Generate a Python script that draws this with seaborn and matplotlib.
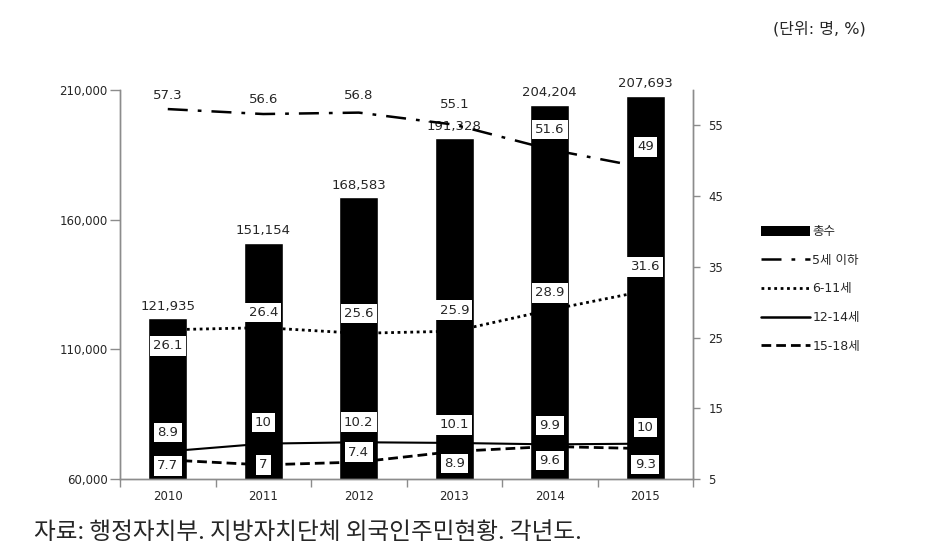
import numpy as np
import matplotlib
matplotlib.use("Agg")
import matplotlib.pyplot as plt
from matplotlib.lines import Line2D
from matplotlib.patches import Patch
import seaborn as sns

# --------- dados ---------
anos = ["2010", "2011", "2012", "2013", "2014", "2015"]
total = [121935, 151154, 168583, 191328, 204204, 207693]
idade_0_5 = [57.3, 56.6, 56.8, 55.1, 51.6, 49]
idade_6_11 = [26.1, 26.4, 25.6, 25.9, 28.9, 31.6]
idade_12_14 = [8.9, 10, 10.2, 10.1, 9.9, 10]
idade_15_18 = [7.7, 7, 7.4, 8.9, 9.6, 9.3]
nomes = ["총수", "5세 이하", "6-11세", "12-14세", "15-18세"]

# deslocamento vertical dos rótulos (pixels, + = acima)
desloc_0_5 = [14, 15, 17, 20, 20, 21]
desloc_6_11 = [-16, 15, 20, 21, 17, 24]
desloc_12_14 = [19, 21, 20, 18, 19, 16]
desloc_15_18 = [-6, 0, 10, -12, -14, -16]
# --------------------------

sns.set_theme(style="white")
plt.rcParams["font.family"] = ["DejaVu Sans", "Noto Sans CJK KR"]
CINZA = "#8c8c8c"

fig = plt.figure(figsize=(9.34, 5.52), dpi=100)
ax = fig.add_axes([0.1285, 0.1322, 0.6135, 0.7048])

sns.barplot(x=anos, y=total, color="black", saturation=1, width=0.41, ax=ax)
ax.set_ylim(60000, 210000)
ax.set_xlim(-0.5, 5.5)
ax.set_yticks([60000, 110000, 160000, 210000])
ax.set_yticklabels([f"{v:,}" for v in [60000, 110000, 160000, 210000]])
ax.bar_label(ax.containers[0], labels=[f"{v:,}" for v in total], padding=4, fontsize=9.5)

ax2 = ax.twinx()
ax2.set_ylim(5, 60)
ax2.set_yticks([5, 15, 25, 35, 45, 55])
ax2.set_xlim(-0.5, 5.5)

xs = np.arange(len(anos))
series = [
    (idade_0_5, desloc_0_5, dict(linestyle=(0, (8, 4, 1.5, 4)), linewidth=1.8)),
    (idade_6_11, desloc_6_11, dict(linestyle=(0, (1, 1.3)), linewidth=2)),
    (idade_12_14, desloc_12_14, dict(linestyle="-", linewidth=1.5)),
    (idade_15_18, desloc_15_18, dict(linestyle=(0, (3.5, 1.8)), linewidth=2)),
]
for vals, desl, estilo in series:
    sns.lineplot(x=xs, y=vals, ax=ax2, color="black", **estilo)
    for x, v, d in zip(xs, vals, desl):
        ax2.annotate(f"{v:g}", (x, v), xytext=(0, d), textcoords="offset pixels",
                     ha="center", va="center", fontsize=9.5, zorder=5,
                     bbox=dict(boxstyle="square,pad=0.25", fc="white", ec="none"))

for a in (ax, ax2):
    for s in a.spines.values():
        s.set_color(CINZA)
        s.set_linewidth(1)
    a.spines["top"].set_visible(False)
    a.grid(False)
    a.set_xlabel("")
    a.set_ylabel("")

ax.tick_params(axis="y", direction="out", length=7, width=1, color=CINZA, labelsize=8.5, pad=2, left=True)
ax2.tick_params(axis="y", direction="out", length=5, width=1, color=CINZA, labelsize=8.5, pad=6, right=True)
ax.tick_params(axis="x", length=0, labelsize=8.5, pad=8)
ax.set_xticks(np.arange(-0.5, 6, 1), minor=True)
ax.tick_params(axis="x", which="minor", direction="out", length=6, width=1, color=CINZA, bottom=True)
ax2.tick_params(axis="x", length=0, labelbottom=False)

handles = [
    Patch(facecolor="black", edgecolor="none"),
    Line2D([], [], color="black", linestyle=(0, (8, 4, 1.5, 4)), linewidth=1.8),
    Line2D([], [], color="black", linestyle=(0, (1, 1.3)), linewidth=2),
    Line2D([], [], color="black", linestyle="-", linewidth=1.8),
    Line2D([], [], color="black", linestyle=(0, (3.5, 1.8)), linewidth=2),
]
fig.legend(handles, nomes, loc="upper left", bbox_to_anchor=(0.815, 0.592), frameon=False,
           fontsize=9, handlelength=3.9, handleheight=0.8, handletextpad=0.2,
           labelspacing=1.25, borderpad=0, borderaxespad=0)

fig.text(0.877, 0.948, "(단위: 명, %)", ha="center", va="center", fontsize=11.5)
fig.text(0.036, 0.036, "자료: 행정자치부. 지방자치단체 외국인주민현황. 각년도.", ha="left", va="center",
         fontsize=17, family=["Noto Sans CJK KR", "DejaVu Sans"])

fig.savefig("out.png", dpi=100)
